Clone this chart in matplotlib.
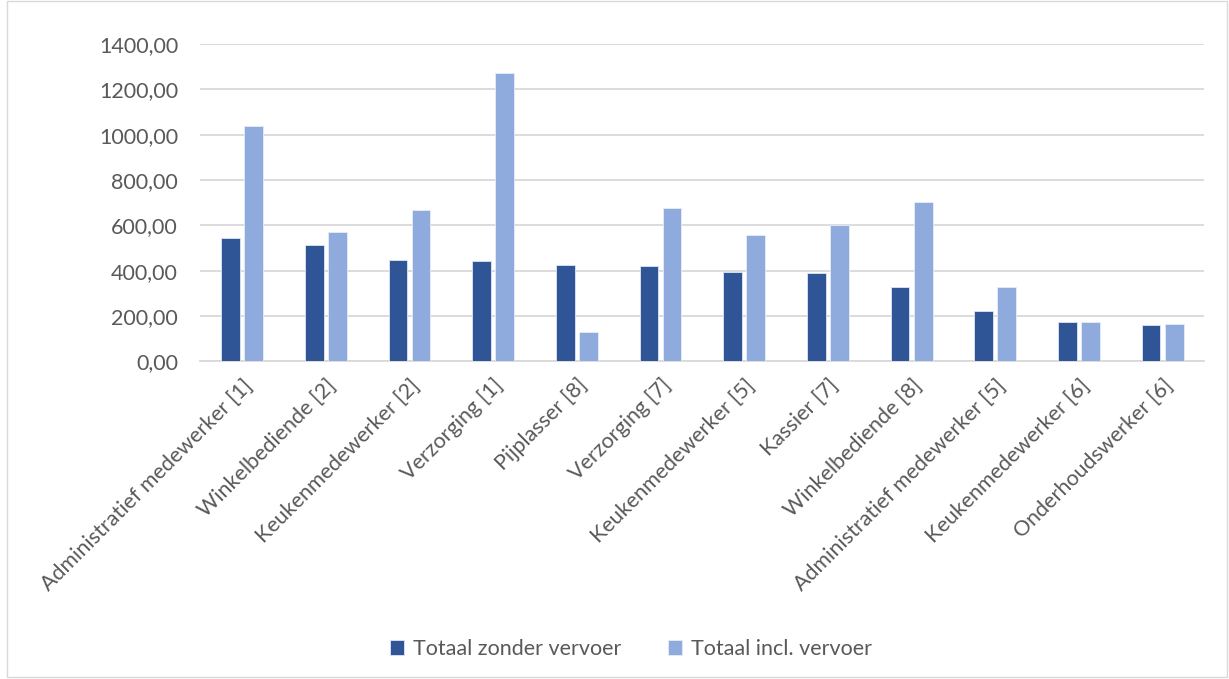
import matplotlib
import matplotlib.pyplot as plt
import numpy as np
from matplotlib.patches import Rectangle
from matplotlib.ticker import FuncFormatter

matplotlib.use("agg")

categories = [
    "Administratief medewerker [1]",
    "Winkelbediende [2]",
    "Keukenmedewerker [2]",
    "Verzorging [1]",
    "Pijplasser [8]",
    "Verzorging [7]",
    "Keukenmedewerker [5]",
    "Kassier [7]",
    "Winkelbediende [8]",
    "Administratief medewerker [5]",
    "Keukenmedewerker [6]",
    "Onderhoudswerker [6]",
]
zonder_vervoer = [545, 514, 448, 444, 425, 419, 395, 388, 329, 223, 172, 162]
incl_vervoer = [1039, 572, 666, 1271, 129, 676, 556, 601, 701, 329, 172, 166]
series_names = ["Totaal zonder vervoer", "Totaal incl. vervoer"]

plt.rcParams["font.family"] = ["Lato", "DejaVu Sans"]
text_color = "#595959"
grid_color = "#d9d9d9"
fs = 15.5

fig = plt.figure(figsize=(12.29, 6.79), dpi=100)
ax = fig.add_axes([0.163, 0.468, 0.817, 0.467])

x = np.arange(len(categories))
w = 0.225
ax.bar(x - 0.138, zonder_vervoer, w, color="#2F5597", edgecolor="#dfe6f3",
       linewidth=0.6, label=series_names[0], zorder=3)
ax.bar(x + 0.138, incl_vervoer, w, color="#8FAADC", edgecolor="#e6ecf7",
       linewidth=0.6, label=series_names[1], zorder=3)

ax.set_xlim(-0.5, len(categories) - 0.5)
ax.set_ylim(0, 1400)
ax.set_yticks(np.arange(0, 1401, 200))
ax.yaxis.set_major_formatter(FuncFormatter(lambda v, p: f"{v:.2f}".replace(".", ",")))
ax.grid(axis="y", color=grid_color, linewidth=1.3, zorder=0)
for s in ["top", "right", "left"]:
    ax.spines[s].set_visible(False)
ax.spines["bottom"].set_color(grid_color)
ax.spines["bottom"].set_linewidth(1.3)
ax.tick_params(axis="both", length=0, colors=text_color, labelsize=fs)
ax.tick_params(axis="y", pad=16)
ax.set_xticks(x)
ax.set_xticklabels(categories, rotation=45, ha="right", rotation_mode="anchor")
ax.tick_params(axis="x", pad=10)

fig.legend(loc="center", bbox_to_anchor=(631 / 1229, 1 - 649 / 679), ncol=2,
           frameon=False, fontsize=fs, labelcolor=text_color, handlelength=0.65,
           handleheight=0.65, handletextpad=0.4, columnspacing=2.2)

fig.patches.append(Rectangle((0.006, 0.003), 0.992, 0.995, transform=fig.transFigure,
                             fill=False, edgecolor=grid_color, linewidth=1))

fig.savefig("out.png", dpi=100)
plt.close()
